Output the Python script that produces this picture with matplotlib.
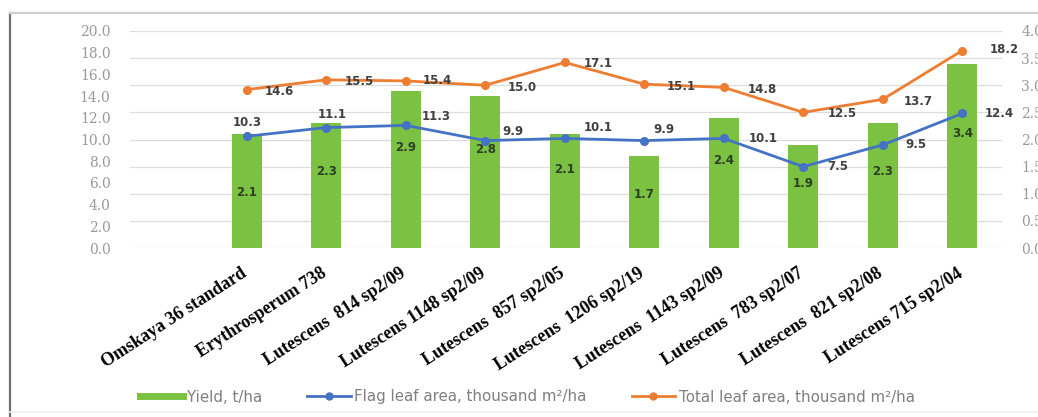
import matplotlib
matplotlib.use("Agg")
import matplotlib.pyplot as plt
import matplotlib.transforms as mtransforms
from matplotlib.lines import Line2D
import numpy as np

# ---- data ----
varieties = [
    "Omskaya 36 standard",
    "Erythrosperum 738",
    "Lutescens  814 sp2/09",
    "Lutescens 1148 sp2/09",
    "Lutescens  857 sp2/05",
    "Lutescens  1206 sp2/19",
    "Lutescens  1143 sp2/09",
    "Lutescens  783 sp2/07",
    "Lutescens  821 sp2/08",
    "Lutescens 715 sp2/04",
]
yield_t_ha = [2.1, 2.3, 2.9, 2.8, 2.1, 1.7, 2.4, 1.9, 2.3, 3.4]
flag_leaf_area = [10.3, 11.1, 11.3, 9.9, 10.1, 9.9, 10.1, 7.5, 9.5, 12.4]
total_leaf_area = [14.6, 15.5, 15.4, 15.0, 17.1, 15.1, 14.8, 12.5, 13.7, 18.2]

left_ticks = [0, 2, 4, 6, 8, 10, 12, 14, 16, 18, 20]
right_ticks = [0.0, 0.5, 1.0, 1.5, 2.0, 2.5, 3.0, 3.5, 4.0]

# ---- label placement (pixel offsets from the point / fraction of bar height) ----
flag_label_offsets = [(0, 14), (6, 13), (30, 9), (28, 9), (33, 11),
                      (20, 11), (39, 0), (34, 0), (33, 0), (37, 0)]
total_label_offsets = [(32, -2), (33, -2), (31, 0), (37, -2), (33, -1),
                       (37, -2), (39, -2), (39, -1), (35, -2), (42, 1)]
bar_label_frac = [0.49, 0.61, 0.64, 0.65, 0.69, 0.58, 0.675, 0.63, 0.61, 0.62]

GREEN = "#7cc242"
BLUE = "#4472c4"
ORANGE = "#ed7d31"
LABEL_C = "#404040"
TICK_C = "#9a9a9a"

W, H = 1038, 417
fig = plt.figure(figsize=(W / 100, H / 100), dpi=100)
fig.patch.set_facecolor("white")

x0, x1, ytop, ybot = 130, 1002, 31, 248
ax = fig.add_axes([x0 / W, 1 - ybot / H, (x1 - x0) / W, (ybot - ytop) / H])
ax2 = ax.twinx()

x = np.arange(len(varieties))

# bars on the secondary (right) axis
ax2.bar(x, yield_t_ha, width=0.38, color=GREEN, zorder=2)
ax2.set_ylim(0, 4)
ax2.set_yticks(right_ticks)
ax2.set_yticklabels([f"{v:.1f}" for v in right_ticks])
ax2.grid(axis="y", color="#dcdcdc", linewidth=0.9, zorder=0)
ax2.set_axisbelow(True)

# lines on the primary (left) axis, drawn above the bars
ax.set_zorder(ax2.get_zorder() + 1)
ax.patch.set_visible(False)
ax.plot(x, flag_leaf_area, color=BLUE, lw=2.0, marker="o", ms=5.5, zorder=3)
ax.plot(x, total_leaf_area, color=ORANGE, lw=2.0, marker="o", ms=5.5, zorder=3)
ax.set_ylim(0, 20)
ax.set_yticks(left_ticks)
ax.set_yticklabels([f"{v:.1f}" for v in left_ticks])
ax.set_xlim(-1.47, 9.5)

for a in (ax, ax2):
    for s in a.spines.values():
        s.set_visible(False)
    a.tick_params(axis="both", length=0)

ax.tick_params(axis="y", pad=14, labelcolor=TICK_C, labelsize=10)
ax2.tick_params(axis="y", pad=14, labelcolor=TICK_C, labelsize=10)
for lab in ax.get_yticklabels() + ax2.get_yticklabels():
    lab.set_family("DejaVu Serif")

ax.set_xticks(x)
ax.set_xticklabels(varieties, rotation=33, ha="right", va="top",
                   rotation_mode="anchor", fontsize=13, fontweight="bold",
                   family="Liberation Serif", color="black")
ax.tick_params(axis="x", pad=12)
shift = mtransforms.ScaledTranslation(-6 / 100, 0, fig.dpi_scale_trans)
for lab in ax.get_xticklabels():
    lab.set_transform(lab.get_transform() + shift)

lab_kw = dict(fontsize=8.5, fontweight="bold", color=LABEL_C,
              family="DejaVu Sans", ha="center", va="center",
              textcoords="offset points")
px = 0.72
for i, v in enumerate(flag_leaf_area):
    dx, dy = flag_label_offsets[i]
    ax.annotate(f"{v:.1f}", (x[i], v), xytext=(dx * px, dy * px), zorder=5, **lab_kw)
for i, v in enumerate(total_leaf_area):
    dx, dy = total_label_offsets[i]
    ax.annotate(f"{v:.1f}", (x[i], v), xytext=(dx * px, dy * px), zorder=5, **lab_kw)
for i, v in enumerate(yield_t_ha):
    ax2.text(x[i], v * bar_label_frac[i], f"{v:.1f}", fontsize=8.5,
             fontweight="bold", color="#2f3f25", family="DejaVu Sans",
             ha="center", va="center", zorder=4)

# legend
handles = [
    Line2D([], [], color=GREEN, lw=5),
    Line2D([], [], color=BLUE, lw=2, marker="o", ms=5),
    Line2D([], [], color=ORANGE, lw=2, marker="o", ms=5),
]
labels = ["Yield, t/ha", "Flag leaf area, thousand m\u00b2/ha",
          "Total leaf area, thousand m\u00b2/ha"]
fig.legend(handles, labels, loc="center", bbox_to_anchor=(0.508, 1 - 397 / H),
           ncol=3, frameon=False, handlelength=2.9, columnspacing=3.0,
           handletextpad=0.25, prop=dict(family="DejaVu Sans", size=10.8),
           labelcolor="#7f7f7f")

# outer frame of the chart area
fig.add_artist(Line2D([10 / W, 10 / W], [0, 1 - 13 / H], transform=fig.transFigure,
                      color="#6e6e6e", lw=1.6))
fig.add_artist(Line2D([10 / W, 1], [1 - 13 / H, 1 - 13 / H], transform=fig.transFigure,
                      color="#cfcfcf", lw=1.6))
fig.add_artist(Line2D([10 / W, 1], [1 - 412 / H, 1 - 412 / H], transform=fig.transFigure,
                      color="#ececec", lw=1.2))

fig.savefig("out.png", dpi=100)
